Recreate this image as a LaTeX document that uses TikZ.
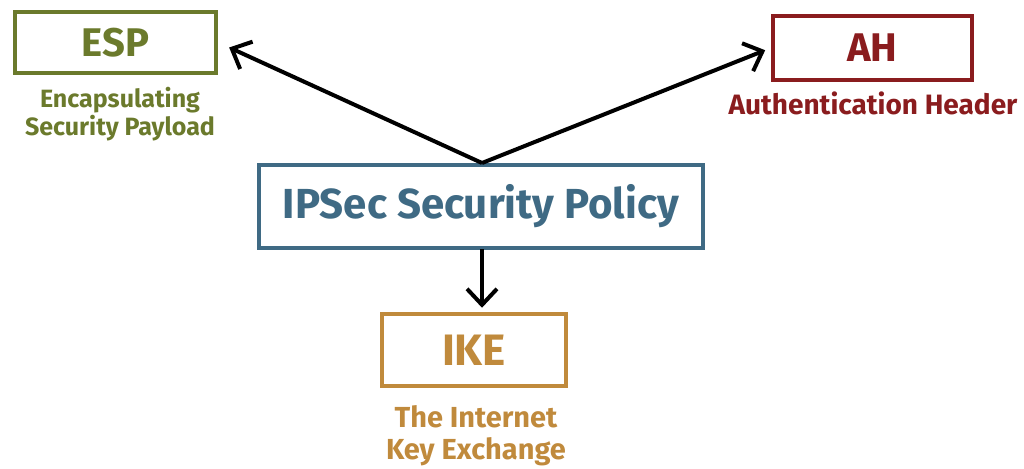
\documentclass[tikz,border=0pt]{standalone}
\usepackage{fontspec}
\setmainfont{Fira Sans}
\usetikzlibrary{arrows.meta}
\definecolor{espc}{HTML}{6B7A2C}
\definecolor{ahc}{HTML}{8A1C1E}
\definecolor{ipc}{HTML}{3F6A84}
\definecolor{ikec}{HTML}{C08A3C}
\begin{document}
\begin{tikzpicture}[x=1pt,y=-1pt,
  box/.style={draw, line width=4.5pt, rectangle, inner sep=0pt, font=\bfseries\fontsize{40}{42}\selectfont},
  sub/.style={align=center, font=\bfseries\fontsize{25}{28}\selectfont, inner sep=0pt},
  conn/.style={line width=4pt, black, -{Straight Barb[length=16pt,width=30pt,line width=4pt]}}]
\useasboundingbox (0,0) rectangle (1024,468);
\node[box, espc, minimum width=201pt, minimum height=61pt] (esp) at (115.5,42.5) {ESP};
\node[sub, espc] (espl) at (120,114) {Encapsulating\\Security Payload};
\node[box, ahc, minimum width=199pt, minimum height=64pt] (ah) at (872.5,48) {AH};
\node[sub, ahc, font=\bfseries\fontsize{28}{30}\selectfont] (ahl) at (873,103) {Authentication Header};
\node[box, ipc, minimum width=444pt, minimum height=83pt, font=\bfseries\fontsize{42}{44}\selectfont] (ip) at (481,206.5) {IPSec Security Policy};
\node[box, ikec, minimum width=184pt, minimum height=72pt, font=\bfseries\fontsize{44}{46}\selectfont] (ike) at (474,350) {IKE};
\node[sub, ikec, font=\bfseries\fontsize{29}{32}\selectfont] (ikel) at (476,436) {The Internet\\Key Exchange};
\coordinate (top) at (482,163);
\coordinate (bot) at (482,249);
\draw[conn, shorten >=12pt] (top) -- (esp.east);
\draw[conn, shorten >=6pt] (top) -- (ah.west);
\draw[conn, shorten >=4pt] (bot) -- (bot |- ike.north);
\end{tikzpicture}
\end{document}
